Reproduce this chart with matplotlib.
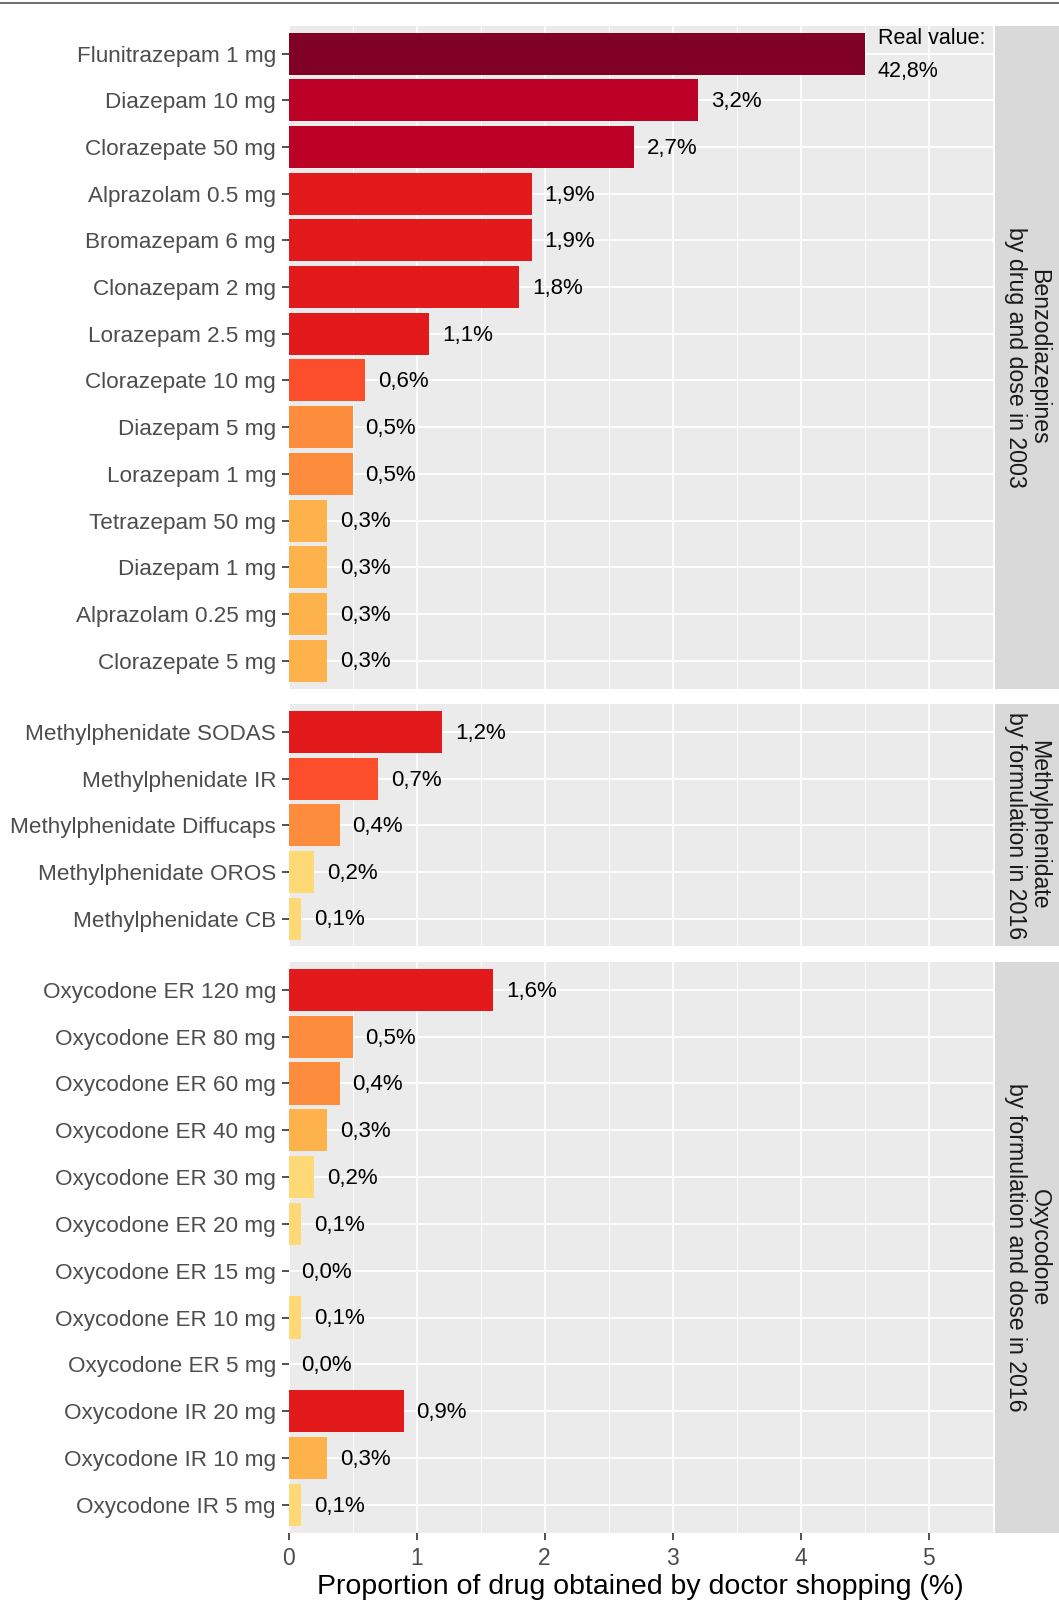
import matplotlib
matplotlib.use("Agg")
import matplotlib.pyplot as plt
import numpy as np

plt.rcParams["font.family"] = ["Liberation Sans", "DejaVu Sans"]

# data, top to bottom within each panel
benzo_labels = ["Flunitrazepam 1 mg", "Diazepam 10 mg", "Clorazepate 50 mg", "Alprazolam 0.5 mg",
                "Bromazepam 6 mg", "Clonazepam 2 mg", "Lorazepam 2.5 mg", "Clorazepate 10 mg",
                "Diazepam 5 mg", "Lorazepam 1 mg", "Tetrazepam 50 mg", "Diazepam 1 mg",
                "Alprazolam 0.25 mg", "Clorazepate 5 mg"]
benzo_values = [42.8, 3.2, 2.7, 1.9, 1.9, 1.8, 1.1, 0.6, 0.5, 0.5, 0.3, 0.3, 0.3, 0.3]

mph_labels = ["Methylphenidate SODAS", "Methylphenidate IR", "Methylphenidate Diffucaps",
              "Methylphenidate OROS", "Methylphenidate CB"]
mph_values = [1.2, 0.7, 0.4, 0.2, 0.1]

oxy_labels = ["Oxycodone ER 120 mg", "Oxycodone ER 80 mg", "Oxycodone ER 60 mg", "Oxycodone ER 40 mg",
              "Oxycodone ER 30 mg", "Oxycodone ER 20 mg", "Oxycodone ER 15 mg", "Oxycodone ER 10 mg",
              "Oxycodone ER 5 mg", "Oxycodone IR 20 mg", "Oxycodone IR 10 mg", "Oxycodone IR 5 mg"]
oxy_values = [1.6, 0.5, 0.4, 0.3, 0.2, 0.1, 0.0, 0.1, 0.0, 0.9, 0.3, 0.1]

strip_titles = ["Benzodiazepines\nby drug and dose in 2003",
                "Methylphenidate\nby formulation in 2016",
                "Oxycodone\nby formulation and dose in 2016"]

CAP = 4.5  # bars above this are truncated and labelled with the real value

# colour classes (YlOrRd)
bin_edges = [0.25, 0.35, 0.55, 0.85, 2.0, 5.0]
palette = ["#FED976", "#FEB24C", "#FD8D3C", "#FC4E2A", "#E31A1C", "#BD0026", "#800026"]


def bar_colour(v):
    return palette[int(np.searchsorted(bin_edges, v))]


def fmt(v):
    return f"{v:.1f}%".replace(".", ",")


W, H = 1059, 1604
fig = plt.figure(figsize=(W / 100, H / 100), dpi=100)

# thin frame line at the very top of the image
fig.add_artist(plt.Line2D([0, 1], [1 - 3 / H, 1 - 3 / H], color="#555555", lw=1.2))

px_left, px_right = 288.5, 993
strip_l, strip_r = 995, 1059
panels_px = [(25.6, 688.6), (704, 946.5), (961.8, 1532.8)]
groups = [(benzo_labels, benzo_values), (mph_labels, mph_values), (oxy_labels, oxy_values)]

for i, ((labels, values), (top, bot), title) in enumerate(zip(groups, panels_px, strip_titles)):
    ax = fig.add_axes([px_left / W, 1 - bot / H, (px_right - px_left) / W, (bot - top) / H])
    n = len(labels)
    y = np.arange(n)
    shown = [min(v, CAP) for v in values]
    ax.barh(y, shown, height=0.9, color=[bar_colour(v) for v in values], zorder=3)
    for yi, v in zip(y, values):
        if v > CAP:
            ax.text(CAP + 0.1, yi + 0.02, "Real value:\n" + fmt(v),
                    ha="left", va="center", fontsize=15.5, linespacing=1.75, zorder=4)
        else:
            ax.text(v + 0.1, yi + 0.03, fmt(v), ha="left", va="center", fontsize=16, zorder=4)

    ax.set_xlim(0, 5.5)
    ax.set_ylim(n - 0.4, -0.6)
    ax.set_facecolor("#EBEBEB")
    ax.set_xticks(np.arange(0, 6))
    ax.set_xticks(np.arange(0.5, 5.6, 1), minor=True)
    ax.set_yticks(y)
    ax.set_yticklabels(labels)
    ax.grid(True, which="major", color="white", lw=1.3, zorder=0)
    ax.grid(True, which="minor", axis="x", color="white", lw=0.6, zorder=0)
    for s in ax.spines.values():
        s.set_visible(False)
    ax.tick_params(axis="y", length=5, width=1.2, color="#333333", labelsize=16.2,
                   labelcolor="#4D4D4D", pad=4)
    ax.tick_params(axis="x", which="minor", length=0)
    if i < 2:
        ax.tick_params(axis="x", which="major", length=0, labelbottom=False)
    else:
        ax.tick_params(axis="x", which="major", length=5, width=1.2, color="#333333",
                       labelsize=16.5, labelcolor="#4D4D4D", pad=5)
        ax.set_xlabel("Proportion of drug obtained by doctor shopping (%)", fontsize=20.5,
                      color="black", labelpad=3)

    # facet strip on the right
    sax = fig.add_axes([strip_l / W, 1 - bot / H, (strip_r - strip_l) / W, (bot - top) / H])
    sax.set_facecolor("#D9D9D9")
    sax.set_xticks([])
    sax.set_yticks([])
    for s in sax.spines.values():
        s.set_visible(False)
    sax.text(0.5, 0.5, title, rotation=-90, ha="center", va="center", fontsize=16.7,
             color="#1A1A1A", transform=sax.transAxes, linespacing=1.05)

fig.savefig("out.png", dpi=100)
